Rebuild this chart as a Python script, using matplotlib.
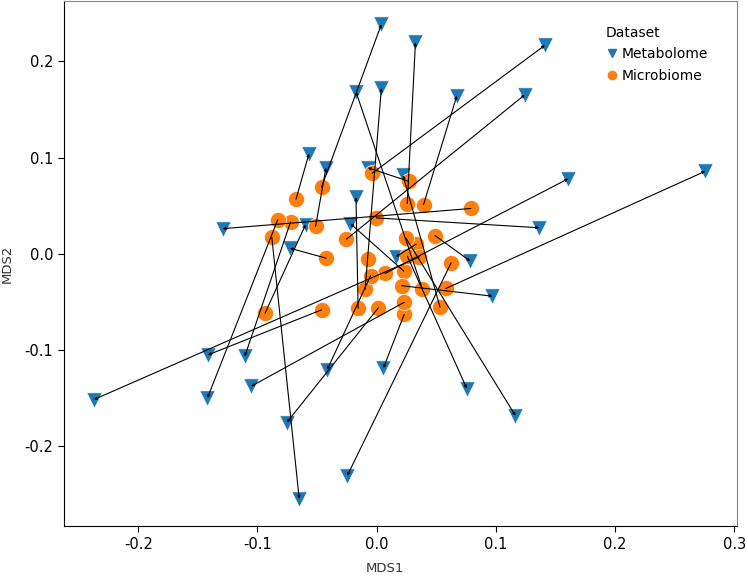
import numpy as np
import matplotlib
matplotlib.use('Agg')
import matplotlib.pyplot as plt
from matplotlib.lines import Line2D

plt.rcParams['axes.unicode_minus'] = False
plt.rcParams['font.family'] = 'DejaVu Sans'

# metabolome coordinates (triangles)
meta_x = [0.0039, 0.0325, 0.1410, -0.0174, 0.0039, 0.0672, 0.1242, -0.0568, -0.0426, -0.0074,
          0.0220, 0.1606, 0.2755, -0.0174, -0.1293, -0.0597, -0.0220, 0.1363, -0.0727, 0.0161,
          0.0785, 0.0970, -0.1417, -0.1107, -0.0415, 0.0056, -0.1054, 0.0756, -0.2372, -0.1420,
          0.1164, -0.0755, -0.0247, -0.0650]
meta_y = [0.2384, 0.2197, 0.2166, 0.1684, 0.1721, 0.1642, 0.1652, 0.1040, 0.0894, 0.0894,
          0.0817, 0.0780, 0.0858, 0.0588, 0.0261, 0.0303, 0.0313, 0.0271, 0.0058, -0.0030,
          -0.0076, -0.0440, -0.1051, -0.1066, -0.1203, -0.1187, -0.1377, -0.1400, -0.1514, -0.1498,
          -0.1682, -0.1753, -0.2305, -0.2544]

# microbiome coordinates (circles), same sample order; the last one has no visible partner
micro_x = [-0.0463, 0.0256, -0.0038, 0.0383, -0.0097, 0.0393, -0.0254, -0.0677, -0.0512, 0.0267,
           0.0531, 0.0070, 0.0580, -0.0156, 0.0789, -0.0937, 0.0228, -0.0003, -0.0424, 0.0331,
           0.0489, 0.0209, -0.0462, -0.0723, -0.0051, 0.0230, 0.0230, 0.0257, 0.0358, -0.0830,
           0.0246, 0.0014, 0.0624, -0.0880, -0.0071]
micro_y = [0.0692, 0.0521, 0.0837, -0.0364, -0.0367, 0.0512, 0.0152, 0.0567, 0.0287, 0.0754,
           -0.0554, -0.0204, -0.0360, -0.0566, 0.0471, -0.0618, -0.0180, 0.0373, -0.0045, 0.0100,
           0.0190, -0.0331, -0.0582, 0.0329, -0.0227, -0.0630, -0.0504, -0.0024, -0.0032, 0.0355,
           0.0162, -0.0561, -0.0094, 0.0173, -0.0053]

blue = '#1f77b4'
orange = '#ff7f0e'

fig = plt.figure(figsize=(7.48, 5.77), dpi=100)
ax = fig.add_axes([0.0852, 0.088, 0.8998, 0.910])

ax.scatter(meta_x, meta_y, marker='v', s=120, color=blue, edgecolor='white', linewidth=0.4, zorder=2)
ax.scatter(micro_x, micro_y, marker='o', s=135, color=orange, edgecolor='white', linewidth=0.5, zorder=3)

# procrustes lines, microbiome -> metabolome
for mx, my, tx, ty in zip(micro_x, micro_y, meta_x, meta_y):
    ax.annotate('', xy=(tx, ty), xytext=(mx, my),
                arrowprops=dict(arrowstyle='->', color='black', lw=0.8,
                                mutation_scale=4, shrinkA=0, shrinkB=0),
                zorder=4)

ax.set_xlim(-0.2625, 0.302)
ax.set_ylim(-0.283, 0.2625)
ax.set_xticks([-0.2, -0.1, 0.0, 0.1, 0.2, 0.3])
ax.set_yticks([-0.2, -0.1, 0.0, 0.1, 0.2])
ax.set_xticklabels(['-0.2', '-0.1', '0.0', '0.1', '0.2', '0.3'])
ax.set_yticklabels(['-0.2', '-0.1', '0.0', '0.1', '0.2'])
ax.tick_params(labelsize=10.5, length=4, colors='black')
ax.set_xlabel('MDS1', fontsize=9.5, color='#333333')
ax.set_ylabel('MDS2', fontsize=9.5, color='#333333', labelpad=8)
ax.xaxis.set_label_coords(0.477, -0.068)

for side in ['top', 'right']:
    ax.spines[side].set_color('#888888')
for side in ['left', 'bottom']:
    ax.spines[side].set_color('black')

handles = [Line2D([], [], marker='v', linestyle='', color=blue, markersize=6),
           Line2D([], [], marker='o', linestyle='', color=orange, markersize=6)]
leg = ax.legend(handles, ['Metabolome', 'Microbiome'], title='Dataset', frameon=False,
                loc='upper left', bbox_to_anchor=(0.79, 0.972), fontsize=10,
                title_fontsize=10, handletextpad=0.15, borderpad=0.2, labelspacing=0.55,
                handlelength=1.0)
leg._legend_box.align = 'left'

plt.savefig('out.png', dpi=100)
